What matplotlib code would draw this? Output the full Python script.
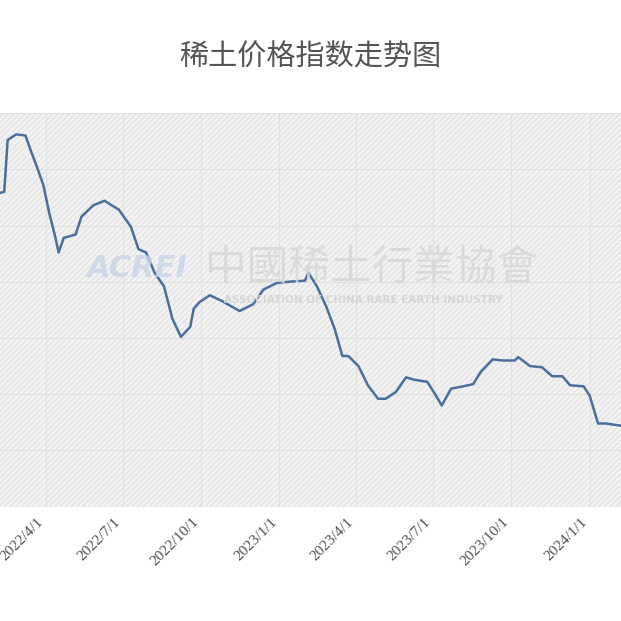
import matplotlib
matplotlib.use("Agg")
import matplotlib.pyplot as plt
import pandas as pd
from matplotlib.patches import Rectangle

# Values
dates = [
    "2022-02-06", "2022-02-11", "2022-02-15", "2022-02-25", "2022-03-08", "2022-03-15",
    "2022-03-22", "2022-03-29", "2022-04-05", "2022-04-12", "2022-04-16", "2022-04-22",
    "2022-05-06", "2022-05-13", "2022-05-27", "2022-06-09", "2022-06-26", "2022-07-10",
    "2022-07-19", "2022-07-28", "2022-08-07", "2022-08-18", "2022-08-28", "2022-09-07",
    "2022-09-18", "2022-09-22", "2022-09-29", "2022-10-11", "2022-10-25", "2022-11-15",
    "2022-12-01", "2022-12-13", "2022-12-29", "2023-01-12", "2023-01-31", "2023-02-04",
    "2023-02-14", "2023-02-25", "2023-03-07", "2023-03-16", "2023-03-23", "2023-04-04",
    "2023-04-15", "2023-04-27", "2023-05-06", "2023-05-18", "2023-05-30", "2023-06-08",
    "2023-06-24", "2023-07-04", "2023-07-11", "2023-07-22", "2023-08-05", "2023-08-17",
    "2023-08-26", "2023-09-09", "2023-09-21", "2023-10-05", "2023-10-09", "2023-10-23",
    "2023-11-06", "2023-11-18", "2023-11-30", "2023-12-09", "2023-12-25", "2024-01-01",
    "2024-01-11", "2024-01-20", "2024-02-07",
]
index_values = [
    379, 380, 426, 431, 430, 415, 401, 386, 361, 340, 326, 339,
    342, 358, 368, 372, 364, 349, 329, 326, 308, 296, 267, 251,
    260, 276, 282, 288, 283, 274, 280, 293, 299, 300, 301, 308,
    296, 278, 258, 234, 234, 225, 208, 196, 196, 202, 215, 213,
    211, 199, 190, 205, 207, 209, 220, 231, 230, 230, 233, 225,
    224, 216, 216, 208, 207, 199, 174, 174, 172,
]
tick_dates = ["2022-04-01", "2022-07-01", "2022-10-01", "2023-01-01", "2023-04-01",
              "2023-07-01", "2023-10-01", "2024-01-01", "2024-04-01"]
tick_labels = ["2022/4/1", "2022/7/1", "2022/10/1", "2023/1/1", "2023/4/1",
               "2023/7/1", "2023/10/1", "2024/1/1", "2024/4/1"]

x = pd.to_datetime(dates)
ticks = pd.to_datetime(tick_dates)

fig = plt.figure(figsize=(6.21, 6.21), dpi=100)
ax = fig.add_axes([0, 0.184, 1, 0.634])

# hatched grey plot background
ax.set_facecolor("#f3f3f3")
ax.add_patch(Rectangle((0, 0), 1, 1, transform=ax.transAxes, facecolor="none",
                       edgecolor="#e4e4e4", hatch="//////", lw=0, zorder=0))

ax.plot(x, index_values, color="#4a6f9c", lw=1.8, zorder=3)

ax.set_yticks(range(100, 451, 50))
ax.set_yticklabels([])
ax.set_xticks(ticks)
ax.set_xticklabels(tick_labels, rotation=45, ha="right", va="top",
                   fontfamily="Liberation Serif", fontsize=11, color="#505050")
ax.set_xlim(pd.Timestamp("2022-02-06"), pd.Timestamp("2024-02-07"))
ax.set_ylim(100, 450)
ax.tick_params(length=0, pad=6)
ax.grid(True, color="#e0e0e0", lw=0.8, zorder=1)
for s in ax.spines.values():
    s.set_visible(False)

# watermark
fig.text(0.14, 0.568, "ACREI", fontsize=22, fontweight="bold", style="italic",
         color="#c8d4e6", alpha=0.8, ha="left", va="center")
fig.text(0.33, 0.568, "中國稀土行業協會", fontfamily="Noto Sans CJK TC",
         fontsize=30, color="#d6d6d6", alpha=0.8, ha="left", va="center")
fig.text(0.36, 0.517, "ASSOCIATION OF CHINA RARE EARTH INDUSTRY", fontsize=7.5,
         fontweight="bold", color="#d6d6d6", ha="left", va="center")

fig.text(0.5, 0.908, "稀土价格指数走势图", fontfamily="Noto Sans CJK SC",
         fontsize=21, color="#555555", ha="center", va="center")

fig.savefig("out.png", dpi=100, facecolor="white")
